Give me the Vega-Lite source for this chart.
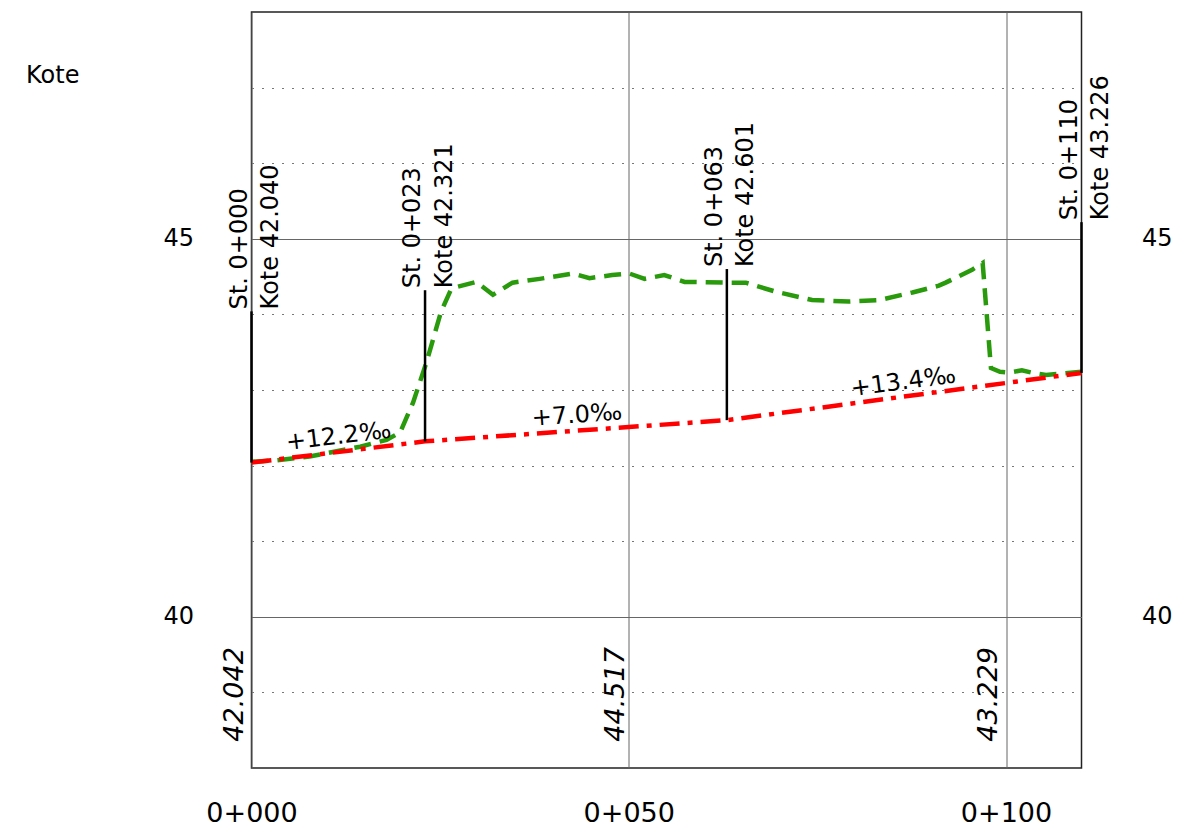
{
  "$schema": "https://vega.github.io/schema/vega-lite/v6.json",
  "width": 830,
  "height": 756,
  "autosize": "none",
  "padding": {"left": 251.5, "top": 12, "right": 99.5, "bottom": 63},
  "background": "white",
  "config": {
    "font": "DejaVu Sans",
    "view": {"stroke": "#222222", "strokeWidth": 1.5},
    "axis": {
      "ticks": false,
      "tickSize": 0,
      "domain": false,
      "labelColor": "#000000",
      "labelFont": "DejaVu Sans",
      "titleFont": "DejaVu Sans",
      "labelFlush": false,
      "labelOverlap": false,
      "labelBound": false
    }
  },
  "datasets": {
    "terrain": [
      {"station": 0, "height": 42.05}, {"station": 3.3, "height": 42.07}, {"station": 7.7, "height": 42.12},
      {"station": 14.4, "height": 42.25}, {"station": 17.9, "height": 42.34}, {"station": 19.7, "height": 42.44},
      {"station": 21.4, "height": 42.83}, {"station": 23.2, "height": 43.37}, {"station": 25.1, "height": 44.03},
      {"station": 26.4, "height": 44.32}, {"station": 27.1, "height": 44.36}, {"station": 29.8, "height": 44.43},
      {"station": 32.0, "height": 44.26}, {"station": 34.6, "height": 44.42}, {"station": 38.2, "height": 44.47},
      {"station": 42.6, "height": 44.54}, {"station": 44.8, "height": 44.48}, {"station": 47.8, "height": 44.52},
      {"station": 50.1, "height": 44.54}, {"station": 52.1, "height": 44.47}, {"station": 54.7, "height": 44.52},
      {"station": 57.4, "height": 44.43}, {"station": 63.1, "height": 44.42}, {"station": 65.5, "height": 44.42},
      {"station": 69.5, "height": 44.30}, {"station": 74.3, "height": 44.19}, {"station": 79.2, "height": 44.17},
      {"station": 83.2, "height": 44.19}, {"station": 87.6, "height": 44.29}, {"station": 91.1, "height": 44.38},
      {"station": 92.0, "height": 44.42}, {"station": 95.5, "height": 44.59}, {"station": 96.9, "height": 44.68},
      {"station": 98.0, "height": 43.29}, {"station": 99.2, "height": 43.24}, {"station": 100.4, "height": 43.23},
      {"station": 102.1, "height": 43.26}, {"station": 103.4, "height": 43.23}, {"station": 105.3, "height": 43.20},
      {"station": 110, "height": 43.24}
    ],
    "gradient": [
      {"station": 0, "height": 42.040}, {"station": 23, "height": 42.321},
      {"station": 63, "height": 42.601}, {"station": 110, "height": 43.226}
    ],
    "stations": [
      {"station": 0, "kote": 42.040, "top": 44.04, "st": "St. 0+000", "kt": "Kote 42.040"},
      {"station": 23, "kote": 42.321, "top": 44.32, "st": "St. 0+023", "kt": "Kote 42.321"},
      {"station": 63, "kote": 42.601, "top": 44.60, "st": "St. 0+063", "kt": "Kote 42.601"},
      {"station": 110, "kote": 43.226, "top": 45.22, "st": "St. 0+110", "kt": "Kote 43.226"}
    ],
    "slopes": [
      {"station": 11.65, "height": 42.29, "slope": 12.2, "label": "+12.2‰"},
      {"station": 43.2, "height": 42.57, "slope": 7.0, "label": "+7.0‰"},
      {"station": 86.5, "height": 43.01, "slope": 13.4, "label": "+13.4‰"}
    ],
    "terrainLabels": [
      {"station": 0, "value": 42.042},
      {"station": 50.6, "value": 44.517},
      {"station": 100, "value": 43.229}
    ]
  },
  "resolve": {"axis": {"y": "independent"}},
  "encoding": {
    "x": {
      "field": "station", "type": "quantitative",
      "scale": {"domain": [0, 110], "nice": false, "zero": false},
      "axis": {
        "values": [0, 50, 100],
        "title": null,
        "grid": true,
        "gridColor": "#666666",
        "gridWidth": 1,
        "labelFontSize": 27,
        "labelPadding": 32,
        "labelAlign": "center",
        "labelExpr": "'0+' + (datum.value < 10 ? '00' : datum.value < 100 ? '0' : '') + datum.value"
      }
    }
  },
  "layer": [
    {
      "data": {"name": "terrain"},
      "mark": {"type": "line", "color": "#299a0b", "strokeWidth": 4.5, "strokeDash": [17, 9]},
      "encoding": {
        "y": {
          "field": "height", "type": "quantitative",
          "scale": {"domain": [38, 48], "nice": false, "zero": false},
          "axis": {
            "orient": "left",
            "values": [39, 40, 41, 42, 43, 44, 45, 46, 47],
            "grid": true,
            "gridColor": {"condition": {"test": "datum.value % 5 === 0", "value": "#666666"}, "value": "#777777"},
            "gridDash": {"condition": {"test": "datum.value % 5 === 0", "value": []}, "value": [2, 8]},
            "gridWidth": 1,
            "labelFontSize": 24,
            "labelPadding": 58,
            "labelExpr": "datum.value % 5 === 0 ? datum.label : ''",
            "title": "Kote",
            "titleAngle": 0,
            "titleAlign": "left",
            "titleBaseline": "alphabetic",
            "titleX": -226,
            "titleY": 70,
            "titleFontSize": 24,
            "titleFontWeight": "normal",
            "titleColor": "#000000"
          }
        }
      }
    },
    {
      "data": {"name": "gradient"},
      "mark": {"type": "line", "color": "#ff0000", "strokeWidth": 4.5, "strokeDash": [20, 8, 5, 8]},
      "encoding": {
        "y": {
          "field": "height", "type": "quantitative",
          "axis": {
            "orient": "right",
            "values": [40, 45],
            "grid": false,
            "labelFontSize": 24,
            "labelPadding": 60,
            "title": null
          }
        }
      }
    },
    {
      "data": {"name": "stations"},
      "mark": {"type": "rule", "color": "#000000", "strokeWidth": 2.5},
      "encoding": {
        "y": {"field": "kote", "type": "quantitative", "axis": null},
        "y2": {"field": "top"}
      }
    },
    {
      "data": {"name": "stations"},
      "mark": {"type": "text", "angle": 270, "align": "left", "baseline": "alphabetic", "dx": 2, "dy": -5, "fontSize": 24, "color": "#000000"},
      "encoding": {
        "y": {"field": "top", "type": "quantitative", "axis": null},
        "text": {"field": "st"}
      }
    },
    {
      "data": {"name": "stations"},
      "mark": {"type": "text", "angle": 270, "align": "left", "baseline": "alphabetic", "dx": 2, "dy": 26.5, "fontSize": 24, "color": "#000000"},
      "encoding": {
        "y": {"field": "top", "type": "quantitative", "axis": null},
        "text": {"field": "kt"}
      }
    },
    {
      "data": {"name": "slopes"},
      "mark": {"type": "text", "align": "center", "baseline": "alphabetic", "fontSize": 24, "color": "#000000"},
      "encoding": {
        "y": {"field": "height", "type": "quantitative", "axis": null},
        "angle": {"field": "slope", "type": "quantitative", "scale": {"domain": [0, 13.4], "range": [360, 352.4]}, "legend": null},
        "text": {"field": "label"}
      }
    },
    {
      "data": {"name": "terrainLabels"},
      "mark": {"type": "text", "angle": 270, "align": "center", "baseline": "alphabetic", "dx": -2, "dy": -9, "fontSize": 27, "fontStyle": "italic", "color": "#000000"},
      "encoding": {
        "y": {"datum": 39, "type": "quantitative", "axis": null},
        "text": {"field": "value", "type": "quantitative", "format": ".3f"}
      }
    }
  ]
}
